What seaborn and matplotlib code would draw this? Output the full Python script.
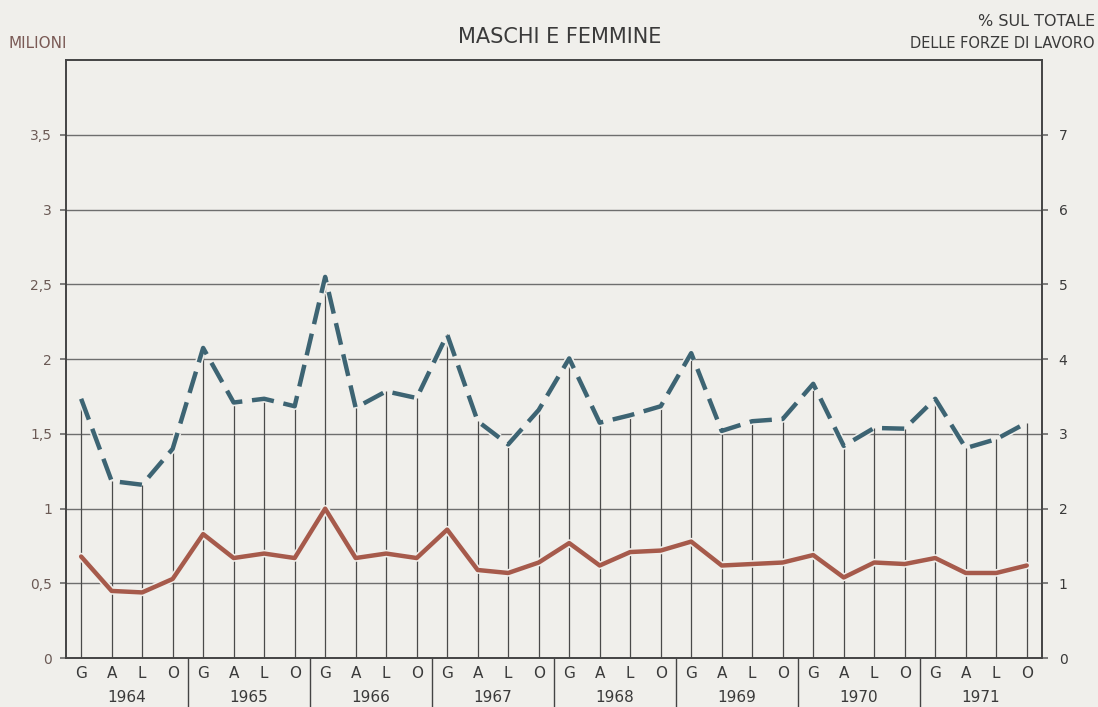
import numpy as np
import pandas as pd
import matplotlib
matplotlib.use("Agg")
import matplotlib.pyplot as plt
import matplotlib.patheffects as pe
import seaborn as sns

# --- data ---
years = ["1964", "1965", "1966", "1967", "1968", "1969", "1970", "1971"]
quarters = ["G", "A", "L", "O"]

# unemployed, millions (left axis)
milioni = [0.68, 0.45, 0.44, 0.53,
           0.83, 0.67, 0.70, 0.67,
           1.00, 0.67, 0.70, 0.67,
           0.86, 0.59, 0.57, 0.64,
           0.77, 0.62, 0.71, 0.72,
           0.78, 0.62, 0.63, 0.64,
           0.69, 0.54, 0.64, 0.63,
           0.67, 0.57, 0.57, 0.62]

# % of labour force (right axis)
percentuale = [3.47, 2.37, 2.32, 2.80,
               4.15, 3.42, 3.47, 3.37,
               5.10, 3.35, 3.57, 3.48,
               4.33, 3.17, 2.86, 3.32,
               4.01, 3.15, 3.25, 3.37,
               4.08, 3.04, 3.17, 3.20,
               3.67, 2.84, 3.08, 3.07,
               3.47, 2.81, 2.93, 3.15]

left_ticks = [0, 0.5, 1, 1.5, 2, 2.5, 3, 3.5]
left_labels = ["0", "0,5", "1", "1,5", "2", "2,5", "3", "3,5"]
right_ticks = [0, 1, 2, 3, 4, 5, 6, 7]

BG = "#f0efeb"
BLUE = "#3d6473"
RED = "#a65a4b"
GRID = "#6e6e6e"
TEXT = "#3a3a3a"

df = pd.DataFrame({
    "idx": np.arange(len(milioni)),
    "milioni": milioni,
    "pct": percentuale,
})

sns.set_theme(style="white")
plt.rcParams["font.family"] = ["DejaVu Sans"]

fig = plt.figure(figsize=(10.98, 7.07), dpi=100, facecolor=BG)
ax = fig.add_axes([0.060, 0.069, 0.889, 0.846])
ax.set_facecolor(BG)
ax2 = ax.twinx()

ax.set_xlim(-0.5, len(milioni) - 0.5)
ax.set_ylim(0, 4)
ax2.set_ylim(0, 8)

# horizontal grid
for v in left_ticks[1:]:
    ax.axhline(v, color=GRID, lw=1.0, zorder=1)

# vertical lines from baseline up to the dashed curve
ax.vlines(df["idx"], 0, df["pct"] / 2, color="#4a4a4a", lw=0.9, zorder=1)

halo = [pe.Stroke(linewidth=5.5, foreground=BG), pe.Normal()]
sns.lineplot(data=df, x="idx", y="milioni", ax=ax, color=RED, lw=3.2,
             zorder=3, legend=False)
ax.lines[-1].set_path_effects(halo)
sns.lineplot(data=df, x="idx", y="pct", ax=ax2, color=BLUE, lw=3.2,
             zorder=3, legend=False)
dash = ax2.lines[-1]
dash.set_dashes([5, 2.2])
dash.set_dash_capstyle("butt")
dash.set_path_effects(halo)

ax.set_xlabel("")
ax.set_ylabel("")
ax2.set_ylabel("")

ax.set_yticks(left_ticks)
ax.set_yticklabels(left_labels, color="#6b5a55", fontsize=10)
ax2.set_yticks(right_ticks)
ax2.set_yticklabels([str(t) for t in right_ticks], color=TEXT, fontsize=10)
ax.tick_params(axis="y", length=4, color=GRID, pad=6)
ax2.tick_params(axis="y", length=4, color=GRID, pad=8)

# quarter + year labels below
ax.set_xticks([])
n = len(milioni)
for i in range(n):
    ax.text(i, -0.1, quarters[i % 4], ha="center", va="center",
            fontsize=11, color=TEXT, clip_on=False)
for k, y in enumerate(years):
    ax.text(4 * k + 1.5, -0.26, y, ha="center", va="center",
            fontsize=11, color=TEXT, clip_on=False)
for k in range(1, len(years)):
    ax.plot([4 * k - 0.5, 4 * k - 0.5], [0, -0.4], color="#444444",
            lw=1.0, clip_on=False)

for a in (ax, ax2):
    for s in a.spines.values():
        s.set_color("#444444")
        s.set_linewidth(1.2)

fig.text(0.510, 0.948, "MASCHI E FEMMINE", ha="center", va="center",
         fontsize=15, color=TEXT)
fig.text(0.008, 0.938, "MILIONI", ha="left", va="center",
         fontsize=11, color="#7a5a55")
fig.text(0.997, 0.970, "% SUL TOTALE", ha="right", va="center",
         fontsize=11.5, color=TEXT)
fig.text(0.997, 0.938, "DELLE FORZE DI LAVORO", ha="right", va="center",
         fontsize=10.5, color=TEXT)

fig.savefig("out.png", dpi=100, facecolor=BG)
plt.close(fig)
